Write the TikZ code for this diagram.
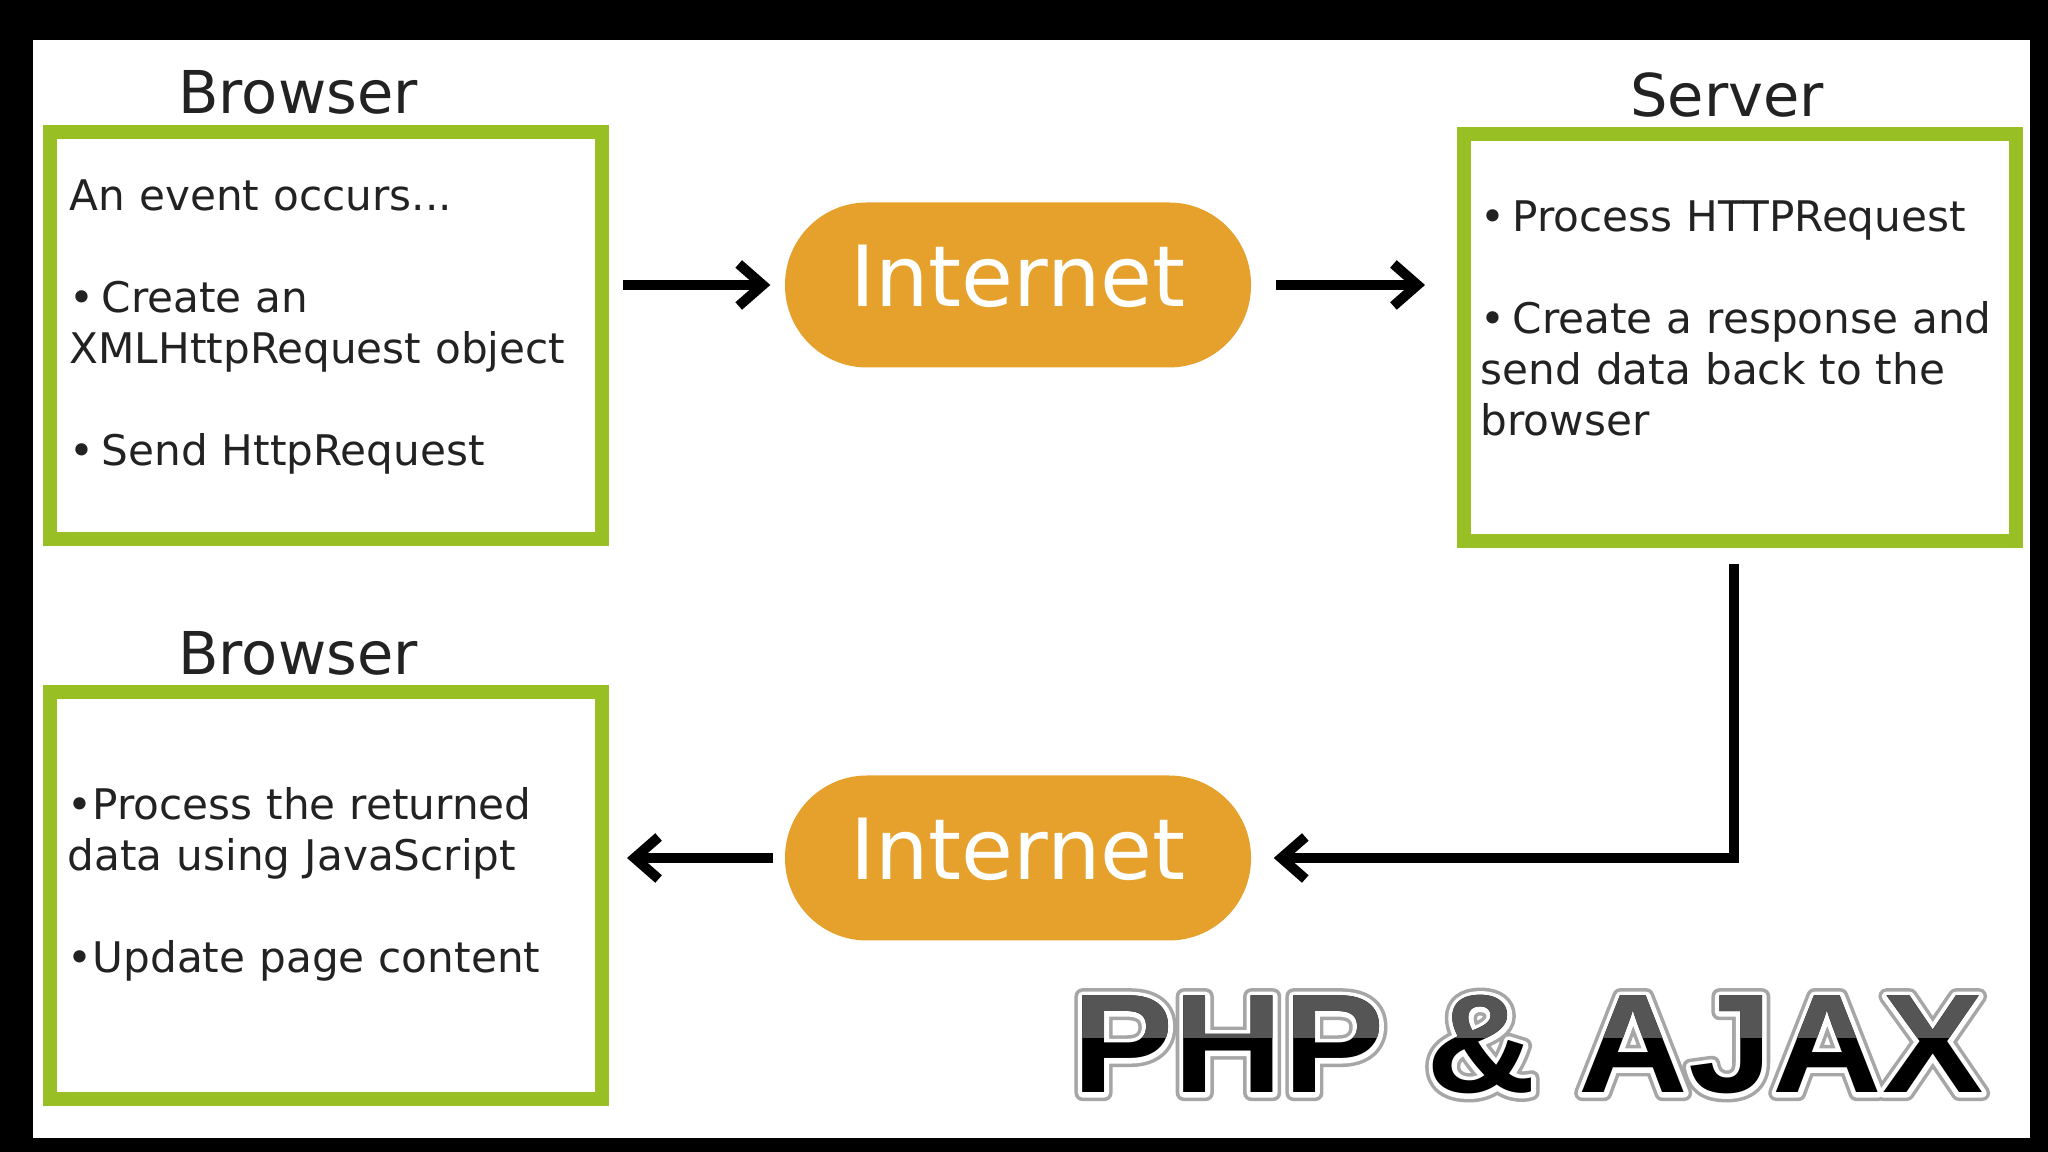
\documentclass[tikz,border=0pt]{standalone}
\usepackage{fontspec}
\setmainfont{DejaVu Sans}
\newfontfamily\logofont{Liberation Sans}[FakeStretch=1.08]
\usetikzlibrary{arrows.meta}
\definecolor{panelgreen}{RGB}{152,192,36}
\definecolor{netorange}{RGB}{229,161,44}
\definecolor{inkgray}{RGB}{34,34,34}
\definecolor{logogray}{RGB}{85,85,85}
% outlined text: stroke colour (rgb) and width (pt)
\newcommand{\strokedtext}[3]{\special{pdf:literal direct 1 Tr 1 j #2 w #1 RG}#3\special{pdf:literal direct 0 Tr}}

\begin{document}
\begin{tikzpicture}[x=0.1mm,y=-0.1mm,
  panel/.style={draw=panelgreen, line width=1.4mm, fill=white,
    minimum width=55.2mm, minimum height=40.7mm, inner sep=0},
  heading/.style={font=\fontsize{16.8}{20}\selectfont, text=inkgray,
    inner sep=0, anchor=base},
  notes/.style={font=\fontsize{12}{14.5}\selectfont, text=inkgray,
    text width=54mm, align=left, inner sep=0, anchor=base west},
  netpill/.style={fill=netorange, rounded corners=8.2mm,
    minimum width=46.6mm, minimum height=16.5mm, text=white,
    font=\fontsize{24}{28}\selectfont, text depth=5pt},
  link/.style={line width=1mm, -{Straight Barb[length=2.4mm,width=4.2mm]}},
  logo/.style={font=\logofont\bfseries\fontsize{40}{44}\selectfont,
    inner sep=0, anchor=base}
]

\useasboundingbox (0,0) rectangle (2048,1152);
\fill[black] (0,0) rectangle (2048,1152);
\fill[white] (33,40) rectangle (2030,1138);

% boxes
\node[panel] (b1) at (326,336) {};
\node[panel] (srv) at (1740,338) {};
\node[panel] (b2) at (326,896) {};

\node[heading] (b1head) at (298,114) {Browser};
\node[heading] (srvhead) at (1727,117) {Server};
\node[heading] (b2head) at (298,675) {Browser};

\node[notes] (b1txt) at (69,211)
  {An event occurs...\\[14.5pt]
   •\,Create an\\
   XMLHttpRequest object\\[14.5pt]
   •\,Send HttpRequest};
\node[notes] (srvtxt) at (1480,232)
  {•\,Process HTTPRequest\\[14.5pt]
   •\,Create a response and\\
   send data back to the\\
   browser};
\node[notes] (b2txt) at (67,820)
  {•Process the returned\\
   data using JavaScript\\[14.5pt]
   •Update page content};

% internet
\node[netpill] (net1) at (1018,285) {Internet};
\node[netpill] (net2) at (1018,858) {Internet};

\draw[link, shorten <=1.4mm, shorten >=1.4mm] (b1.east |- net1.west) -- (net1.west);
\draw[link, shorten <=2.4mm, shorten >=3.2mm] (net1.east) -- (net1.east -| srv.west);
\draw[link, shorten <=1.6mm, shorten >=2.2mm] ([xshift=-0.6mm]srv.south) |- (net2.east);
\draw[link, shorten <=1.1mm, shorten >=1.8mm] (net2.west) -- (net2.west -| b2.east);

% PHP & AJAX
\node[logo] (logohalo) at (1528,1093) {\strokedtext{0.65 0.65 0.65}{4.6}{PHP \& AJAX}};
\node[logo] (logoline) at (1528,1093) {\strokedtext{1 1 1}{2.6}{PHP \& AJAX}};
\node[logo, text=black] (logo) at (1528,1093) {PHP \& AJAX};
\begin{scope}
\clip (1000,900) rectangle (2030,1038);
\node[logo, text=logogray] (logotop) at (1528,1093) {PHP \& AJAX};
\end{scope}

\end{tikzpicture}
\end{document}
